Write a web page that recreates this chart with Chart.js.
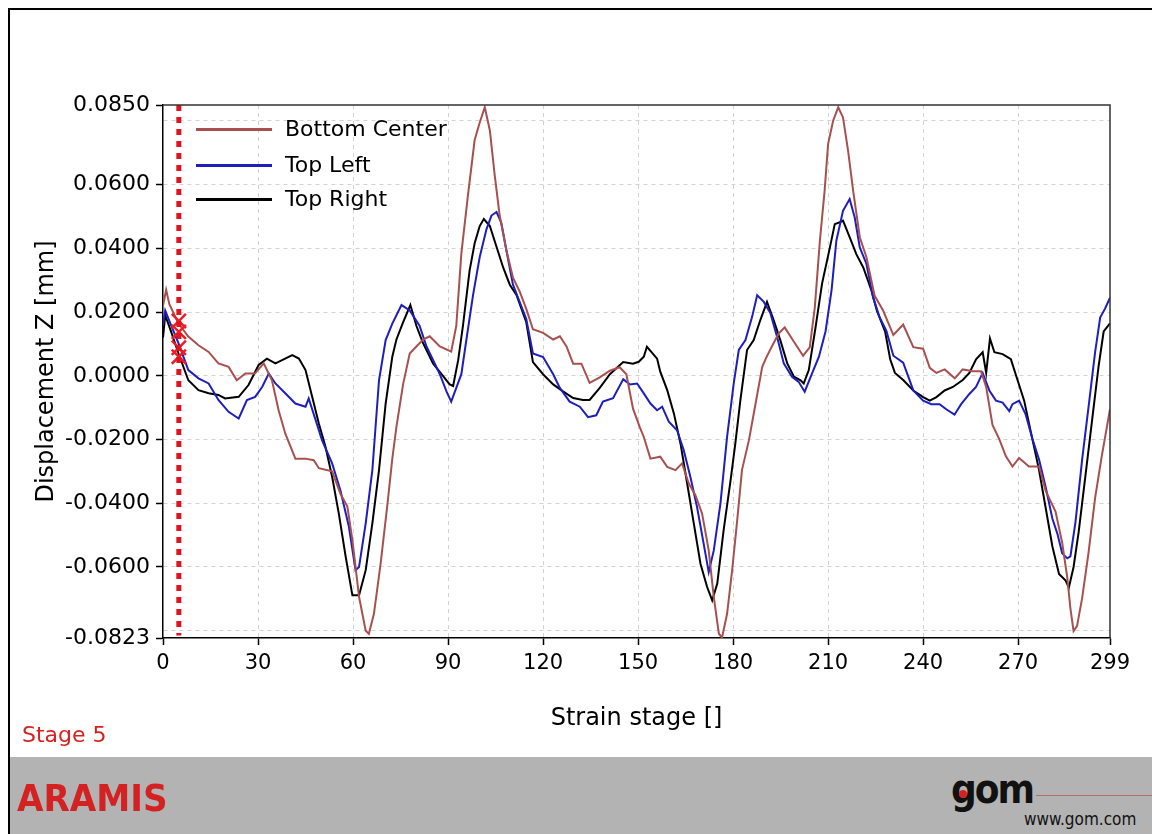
<!DOCTYPE html>
<html>
<head>
<meta charset="utf-8">
<script src="https://cdn.jsdelivr.net/npm/chart.js@4.4.1/dist/chart.umd.min.js"></script>
<style>
  html, body { margin: 0; padding: 0; background: #fff; }
  body { width: 1152px; height: 834px; position: relative; overflow: hidden; font-family: 'DejaVu Sans', sans-serif; }
  #frame { position: absolute; left: 8px; top: 8px; width: 1144px; height: 826px; border-top: 2px solid #000; border-left: 2px solid #000; box-sizing: border-box; }
  #chart { position: absolute; left: 0; top: 0; }
  #band { position: absolute; left: 10px; top: 757px; width: 1142px; height: 77px; background: #b3b3b3; }
  .leg { position: absolute; left: 196px; height: 30px; }
  .leg span.ln { position: absolute; left: 0; top: 14px; width: 76px; height: 3px; }
  .leg span.tx { position: absolute; left: 89px; top: 0; font-size: 22px; line-height: 30px; white-space: nowrap; color: #000; }
  #stage { position: absolute; left: 22px; top: 722px; font-size: 22px; color: #d8201e; }
  #aramis { position: absolute; left: 17px; top: 776px; font-size: 38px; font-weight: bold; color: #d42222; font-family: 'DejaVu Sans Condensed', 'DejaVu Sans', sans-serif; }
  #gom { position: absolute; left: 951px; top: 766px; font-size: 40px; font-weight: bold; color: #111; letter-spacing: -2px; font-family: 'DejaVu Sans Condensed', 'DejaVu Sans', sans-serif; }
  #gomdot { position: absolute; left: 959px; top: 790px; width: 8px; height: 8px; border-radius: 50%; background: #d42222; }
  #gomline { position: absolute; left: 1036px; top: 795px; width: 116px; height: 1px; background: #b46c6c; }
  #www { position: absolute; left: 1024px; top: 809px; font-size: 17px; color: #111; font-family: 'DejaVu Sans Condensed', 'DejaVu Sans', sans-serif; white-space: nowrap; }
</style>
</head>
<body>
<div id="band"></div>
<div id="frame"></div>
<canvas id="chart" width="1152" height="757"></canvas>

<div class="leg" style="top:114px"><span class="ln" style="background:#a8504f"></span><span class="tx">Bottom Center</span></div>
<div class="leg" style="top:150px"><span class="ln" style="background:#1e1ebe"></span><span class="tx">Top Left</span></div>
<div class="leg" style="top:184px"><span class="ln" style="background:#000"></span><span class="tx">Top Right</span></div>

<div id="stage">Stage 5</div>
<div id="aramis">ARAMIS</div>
<div id="gom">gom</div>
<div id="gomdot"></div>
<div id="gomline"></div>
<div id="www">www.gom.com</div>

<script>
// Bottom Center
const stagesBottomCenter = [0, 1, 2, 4.9, 8, 11.2, 14.4, 17.5, 20.7, 23.3, 26, 29, 31.8, 34.4, 36.5, 38.6, 41.8, 45, 47.6, 49.2,
  53.4, 56, 58.2, 59.8, 61.9, 64, 65, 66.6, 68.7, 70.9, 72.4, 73.7, 75.8, 77.9, 80, 82.1, 84.2, 87.4, 91, 92.6,
  94.2, 96.3, 98.4, 100, 101.6, 103.2, 104.7, 106.3, 108.4, 110.5, 112.6, 114.7, 116.8, 120, 123.2, 125.3, 127.4, 129.5, 132.1, 134.7,
  137.9, 141.1, 144.2, 146.3, 148.4, 150.5, 151.8, 153.9, 157, 159.2, 161.8, 163.9, 166, 168.1, 170.2, 172.3, 173.9, 175.5, 176.5, 178.1,
  179.7, 181.3, 182.8, 185, 187.1, 189.2, 190.5, 192.6, 194.4, 196.3, 199, 202.1, 204.2, 205.8, 207.4, 208.9, 210, 211.6, 213.2, 214.7,
  216.3, 217.9, 220, 222.1, 224.7, 227.4, 230.6, 233.7, 236.9, 240, 242.1, 244.2, 246.8, 250, 252.5, 255.7, 258.3, 259.9, 261.9, 264,
  266.1, 268.2, 270.3, 273.4, 276.6, 278.7, 281.8, 283.9, 285.5, 286.5, 287.5, 288.6, 290.2, 292.2, 294.3, 296.4, 299];
const valuesBottomCenter = [0.022, 0.027, 0.0225, 0.0164, 0.0123, 0.0096, 0.0075, 0.0039, 0.0028, -0.0014, 0.0007, 0.0007, 0.0039, -0.0014, -0.0108, -0.0181, -0.026, -0.026, -0.0265, -0.029,
  -0.030, -0.037, -0.041, -0.0516, -0.0694, -0.080, -0.081, -0.0747, -0.059, -0.040, -0.026, -0.016, -0.0027, 0.007, 0.0092, 0.0114, 0.0124, 0.0092, 0.0076, 0.0157,
  0.0384, 0.0568, 0.074, 0.0795, 0.0843, 0.077, 0.0632, 0.0503, 0.0395, 0.0308, 0.0265, 0.021, 0.0146, 0.0135, 0.0114, 0.0124, 0.0092, 0.0038, 0.0038, -0.0022,
  -0.0005, 0.0016, 0.0027, 0.0005, -0.0103, -0.016, -0.0192, -0.026, -0.0254, -0.0286, -0.0296, -0.0275, -0.0338, -0.0375, -0.0432, -0.0548, -0.0694, -0.0809, -0.0822, -0.0747,
  -0.061, -0.0453, -0.0296, -0.0202, -0.0087, 0.0028, 0.0058, 0.0099, 0.0133, 0.0152, 0.011, 0.0063, 0.0089, 0.0215, 0.0424, 0.0581, 0.0728, 0.0801, 0.0843, 0.0811,
  0.0707, 0.0581, 0.0435, 0.0372, 0.0251, 0.0204, 0.0128, 0.0161, 0.009, 0.0085, 0.0025, 0.0009, 0.002, -0.0008, 0.002, 0.0014, 0.0014, -0.0035, -0.0154, -0.0198,
  -0.0252, -0.0285, -0.0258, -0.0285, -0.0285, -0.0361, -0.0426, -0.0524, -0.0633, -0.073, -0.0801, -0.0785, -0.0698, -0.0557, -0.0383, -0.0252, -0.0105];

// Top Left
const stagesTopLeft = [0, 0.7, 2.5, 4.9, 8, 11.2, 14.4, 17.5, 20.7, 23.9, 26.5, 29.1, 31.3, 33.4, 35.5, 38.6, 41.8, 45, 46, 48.2,
  50.2, 53.4, 56, 58.7, 60.8, 61.9, 64, 66.1, 68.2, 70.3, 72.4, 75.3, 77.9, 81, 83.2, 85.3, 87.4, 89.5, 91, 92.6,
  94.2, 95.8, 97.9, 100, 102.1, 103.7, 105.3, 106.8, 108.4, 110.5, 112.6, 114.7, 116.8, 120, 123.2, 125.3, 128.4, 131.6, 134.2, 136.8,
  138.9, 142.1, 145.3, 147.4, 149.7, 151.8, 153.9, 156, 157.6, 159.7, 162.3, 164.4, 166.5, 168.6, 170.7, 172.3, 173.9, 176, 178.1, 180.2,
  181.8, 183.9, 186, 187.6, 189.7, 191.8, 193.9, 196, 198.6, 200.7, 202.6, 204.9, 207.1, 209.2, 211.1, 212.6, 214.7, 216.8, 218.4, 220,
  222.1, 224.2, 226.3, 228.4, 230.6, 233.7, 236.9, 240, 242.6, 245.2, 247.3, 249.9, 252, 254.6, 256.7, 258.8, 260.9, 263, 265.1, 267.2,
  268.2, 270.3, 272.4, 274.5, 276.6, 278.7, 280.8, 282.4, 283.9, 285.5, 286.5, 288.1, 290.2, 292.2, 294.3, 295.9, 297.4, 299];
const valuesTopLeft = [0.016, 0.0205, 0.016, 0.0102, 0.0018, -0.0008, -0.0024, -0.0076, -0.0113, -0.0134, -0.0076, -0.0066, -0.0035, 0.0007, -0.0024, -0.0055, -0.0087, -0.0097, -0.0071, -0.0139,
  -0.0202, -0.0275, -0.0359, -0.0474, -0.061, -0.060, -0.0463, -0.0296, -0.0014, 0.0112, 0.0164, 0.0222, 0.0205, 0.0157, 0.0092, 0.0049, 0.0005, -0.0049, -0.0081, -0.0038,
  0.0005, 0.0114, 0.0254, 0.0373, 0.0459, 0.0503, 0.0514, 0.0481, 0.0395, 0.0286, 0.0232, 0.0178, 0.007, 0.0059, 0.0005, -0.0038, -0.0081, -0.0097, -0.013, -0.0124,
  -0.0081, -0.007, -0.0011, -0.0027, -0.0024, -0.0055, -0.0087, -0.0108, -0.0097, -0.0144, -0.0171, -0.0233, -0.0317, -0.0411, -0.0527, -0.0616, -0.0548, -0.0401, -0.0192, -0.0024,
  0.0081, 0.0112, 0.0185, 0.0253, 0.0232, 0.0196, 0.0122, 0.0039, -0.0003, -0.0019, -0.005, 0.0007, 0.006, 0.014, 0.027, 0.0424, 0.0518, 0.0555, 0.0497, 0.0403,
  0.0351, 0.0246, 0.0183, 0.0141, 0.0063, 0.0041, -0.0046, -0.0078, -0.0089, -0.0089, -0.0105, -0.0122, -0.0089, -0.0057, -0.0035, 0.0009, -0.0046, -0.0078, -0.0084, -0.0111,
  -0.0089, -0.0078, -0.0122, -0.0198, -0.0263, -0.035, -0.0448, -0.0496, -0.0557, -0.0573, -0.0567, -0.0459, -0.0263, -0.01, 0.0074, 0.0183, 0.021, 0.0245];

// Top Right
const stagesTopRight = [0, 0.7, 2.5, 4.9, 8, 11.2, 14.4, 17.5, 19.6, 23.9, 27, 30.2, 32.8, 35.5, 37.6, 40.8, 42.9, 45, 47.1, 49.2,
  51.3, 53.4, 55.5, 57.7, 59.8, 61.9, 64, 66.1, 68.2, 70.3, 72.4, 73.7, 75.8, 78.1, 80, 82.1, 85.3, 88.4, 90.5, 91.6,
  93.2, 94.7, 96.8, 98.4, 100, 101.3, 103.2, 105.3, 107.4, 109.5, 111.6, 114.7, 116.8, 120, 123.2, 126.3, 129.5, 132.6, 134.7, 137.9,
  141.1, 145.3, 148.4, 150.2, 151.8, 152.8, 156, 157, 159.2, 161.3, 163.4, 165.5, 167.6, 169.7, 171.8, 173.4, 175, 177, 179.2, 180.7,
  182.3, 184.4, 186.5, 188.6, 190.7, 192.8, 194.9, 197.1, 199.2, 201.3, 202.3, 203.9, 206, 208.1, 210.5, 212.1, 213.7, 214.7, 216.8, 218.9,
  221.1, 223.7, 225.4, 228, 229.6, 231.1, 233.7, 236.9, 240, 242.1, 244.2, 246.8, 249.4, 252.5, 254.6, 256.7, 258.8, 259.9, 261.1, 262.5,
  265.1, 267.7, 269.8, 271.9, 274, 276.6, 278.7, 280.8, 282.9, 285, 286, 287.5, 289.1, 291.2, 293.3, 295.4, 297, 299];
const valuesTopRight = [0.012, 0.019, 0.014, 0.007, -0.0014, -0.0045, -0.0055, -0.006, -0.0071, -0.0066, -0.0029, 0.0034, 0.0054, 0.0039, 0.0049, 0.0065, 0.0054, 0.0018, -0.0066, -0.015,
  -0.0223, -0.0317, -0.0432, -0.0569, -0.0689, -0.0689, -0.061, -0.0463, -0.0296, -0.0087, 0.006, 0.0114, 0.0168, 0.0222, 0.0157, 0.0103, 0.0038, 0.0, -0.0027, -0.0032,
  0.0049, 0.0157, 0.033, 0.0416, 0.047, 0.0492, 0.047, 0.0405, 0.034, 0.0286, 0.0254, 0.0168, 0.0043, 0.0005, -0.0027, -0.0049, -0.007, -0.0076, -0.0076, -0.0038,
  0.0005, 0.0043, 0.0038, 0.0044, 0.006, 0.0091, 0.0054, 0.0013, -0.0045, -0.0118, -0.0213, -0.0338, -0.0464, -0.059, -0.0663, -0.0705, -0.0652, -0.0485, -0.0328, -0.0213,
  -0.0076, 0.0081, 0.0112, 0.0175, 0.0232, 0.0175, 0.0112, 0.0039, -0.0003, -0.0014, -0.0024, 0.0018, 0.015, 0.029, 0.040, 0.0476, 0.0482, 0.0487, 0.0435, 0.0382,
  0.034, 0.0267, 0.0204, 0.0139, 0.0052, 0.0009, -0.0013, -0.0046, -0.0067, -0.0078, -0.0067, -0.0046, -0.0035, -0.0013, 0.0009, 0.0052, 0.0074, 0.0009, 0.0117, 0.0074,
  0.0068, 0.0052, -0.0013, -0.0078, -0.0176, -0.0296, -0.0415, -0.0535, -0.0622, -0.0643, -0.0665, -0.06, -0.0491, -0.0317, -0.0143, 0.003, 0.0139, 0.0165];

// current stage cursor and its markers
const cursorStage = 5;
const markerValues = [0.0172, 0.0138, 0.0088, 0.006];

// axes
const xMin = 0, xMax = 299;
const yMin = -0.0823, yMax = 0.085;
const xTickValues = [0, 30, 60, 90, 120, 150, 180, 210, 240, 270, 299];
const yTickValues = [-0.0823, -0.08, -0.06, -0.04, -0.02, 0, 0.02, 0.04, 0.06, 0.08, 0.085];
const yUnlabelled = [-0.08, 0.08];

function pts(xs, ys) { return xs.map((x, i) => ({ x: x, y: ys[i] })); }

Chart.defaults.font.family = "'DejaVu Sans', sans-serif";
Chart.defaults.color = '#000';

const plotFrame = {
  id: 'plotFrame',
  afterDraw(chart) {
    const a = chart.chartArea, ctx = chart.ctx;
    ctx.save();
    ctx.strokeStyle = '#333';
    ctx.lineWidth = 1.5;
    ctx.beginPath();
    ctx.moveTo(a.left, a.top);
    ctx.lineTo(a.right, a.top);
    ctx.lineTo(a.right, a.bottom);
    ctx.stroke();
    ctx.restore();
  }
};

const isLabelled = v => !yUnlabelled.some(u => Math.abs(u - v) < 1e-9);

new Chart(document.getElementById('chart'), {
  type: 'line',
  data: {
    datasets: [
      { label: 'Bottom Center', data: pts(stagesBottomCenter, valuesBottomCenter), borderColor: '#a8504f', borderWidth: 2, pointRadius: 0, order: 1 },
      { label: 'Top Left', data: pts(stagesTopLeft, valuesTopLeft), borderColor: '#1e1ebe', borderWidth: 2, pointRadius: 0, order: 1 },
      { label: 'Top Right', data: pts(stagesTopRight, valuesTopRight), borderColor: '#000000', borderWidth: 2, pointRadius: 0, order: 1 },
      { label: 'cursor', data: [{ x: cursorStage, y: yMax }, { x: cursorStage, y: yMin + 0.0008 }], borderColor: '#e0141e', borderWidth: 5, borderDash: [6, 6], pointRadius: 0, order: 0 },
      { label: 'markers', data: markerValues.map(v => ({ x: cursorStage, y: v })), showLine: false, pointStyle: 'crossRot', pointRadius: 10, borderWidth: 2.5, pointBorderColor: '#ee1c24', pointBackgroundColor: '#ee1c24', order: 0 }
    ]
  },
  options: {
    responsive: false,
    animation: false,
    devicePixelRatio: 1,
    layout: { padding: { left: 28, top: 105, right: 42, bottom: 20 } },
    plugins: { legend: { display: false }, tooltip: { enabled: false } },
    elements: { line: { tension: 0, fill: false } },
    scales: {
      x: {
        type: 'linear', min: xMin, max: xMax,
        afterBuildTicks: s => { s.ticks = xTickValues.map(v => ({ value: v })); },
        afterFit: s => { s.height = 99; },
        ticks: { autoSkip: false, maxRotation: 0, padding: 6, font: { size: 21 }, color: '#000', callback: v => String(v) },
        grid: {
          color: c => (c.tick && (c.tick.value === xMin || c.tick.value === xMax)) ? 'rgba(0,0,0,0)' : '#d2d2d2',
          lineWidth: 1, tickColor: '#000', tickLength: 7, tickWidth: 1.5
        },
        border: { color: '#000', width: 1.5, dash: [4, 4] },
        title: { display: true, text: 'Strain stage []', font: { size: 24 }, color: '#000', padding: { top: 4, bottom: 4 } }
      },
      y: {
        type: 'linear', min: yMin, max: yMax,
        afterBuildTicks: s => { s.ticks = yTickValues.map(v => ({ value: v })); },
        afterFit: s => { s.width = 135; },
        ticks: { autoSkip: false, padding: 6, font: { size: 22 }, color: '#000',
          callback: v => isLabelled(v) ? v.toFixed(4) : '' },
        grid: {
          color: c => (c.tick && (c.tick.value === yMin || c.tick.value === yMax)) ? 'rgba(0,0,0,0)' : '#d2d2d2',
          tickColor: c => (c.tick && !isLabelled(c.tick.value)) ? 'rgba(0,0,0,0)' : '#000',
          lineWidth: 1, tickLength: 7, tickWidth: 1.5
        },
        border: { color: '#000', width: 1.5, dash: [4, 4] },
        title: { display: true, text: 'Displacement Z [mm]', font: { size: 24 }, color: '#000', padding: { top: 4, bottom: 4 } }
      }
    }
  },
  plugins: [plotFrame]
});
</script>
</body>
</html>
